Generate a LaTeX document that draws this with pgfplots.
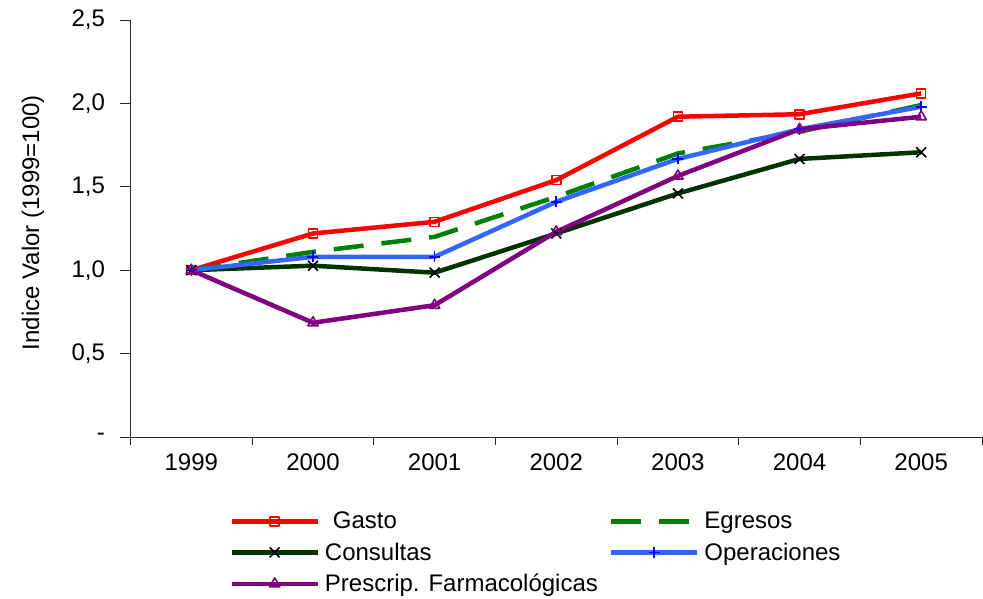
\documentclass[border=0pt]{standalone}
\usepackage{fontspec}
\setmainfont{Liberation Sans}
\usepackage{pgfplots}
\pgfplotsset{compat=1.18}
\definecolor{cgasto}{RGB}{255,0,0}
\definecolor{cegr}{RGB}{0,128,0}
\definecolor{ccons}{RGB}{0,51,0}
\definecolor{coper}{RGB}{51,102,255}
\definecolor{cpres}{RGB}{128,0,128}
\newcommand{\bigf}{\fontsize{24}{28}\selectfont}
\begin{document}
\begin{tikzpicture}
\useasboundingbox (0,0) rectangle (983pt,599pt);
\begin{axis}[
  at={(130.5pt,162pt)}, anchor=south west,
  scale only axis, width=851.5pt, height=417pt,
  xmin=-0.5, xmax=6.5, ymin=0, ymax=2.5,
  axis x line*=bottom, axis y line*=left,
  axis line style={line width=0.9pt, black!85},
  xtick={0,...,6}, xticklabels={1999,2000,2001,2002,2003,2004,2005},
  major x tick style={draw=none},
  minor xtick={-0.5,0.5,...,6.5},
  ytick={0,0.5,1,1.5,2,2.5}, yticklabels={-,{0,5},{1,0},{1,5},{2,0},{2,5}},
  tick align=outside, major tick length=10pt, minor tick length=8pt,
  tick style={line width=0.9pt, black!85},
  every tick label/.append style={font=\bigf},
  yticklabel style={xshift=-12pt},
  xticklabel style={yshift=-3pt},
  /pgf/number format/assume math mode=true,
  ylabel={Indice Valor (1999=100)},
  ylabel style={font=\bigf, at={(axis description cs:-0.1145,0.514)}, anchor=center, rotate=0},
  legend columns=2,
  legend cell align=left,
  legend style={draw=none, fill=none, font=\bigf, at={(rel axis cs:0.116,-0.175)}, anchor=north west,
    inner sep=0pt, row sep=8.5pt,
    /tikz/every odd column/.append style={column sep=3pt},
    /tikz/every even column/.append style={column sep=9pt}},
  legend image code/.code={\draw[#1, mark repeat=2, mark phase=2] plot coordinates {(0pt,0pt)(43pt,0pt)(86pt,0pt)};},
  every axis plot/.append style={line width=4.5pt, line join=round},
]
\addplot[cgasto, mark=square, mark size=4.5pt, mark options={solid, line width=1.6pt}] coordinates
  {(0,1.0) (1,1.22) (2,1.29) (3,1.54) (4,1.92) (5,1.935) (6,2.06)};
\addlegendentry{\hspace{8pt}Gasto}
\addplot[cegr, dash pattern=on 30pt off 18pt] coordinates
  {(0,1.0) (1,1.11) (2,1.20) (3,1.44) (4,1.70) (5,1.83) (6,1.99)};
\addlegendentry{Egresos}
\addplot[ccons, mark=x, mark size=7pt, mark options={solid, black, line width=1.6pt}] coordinates
  {(0,1.0) (1,1.027) (2,0.985) (3,1.22) (4,1.46) (5,1.667) (6,1.707)};
\addlegendentry{Consultas}
\addplot[coper, mark=+, mark size=5.5pt, mark options={solid, blue, line width=1.6pt}] coordinates
  {(0,1.0) (1,1.08) (2,1.08) (3,1.41) (4,1.667) (5,1.845) (6,1.98)};
\addlegendentry{Operaciones}
\addplot[cpres, mark=triangle, mark size=6pt, mark options={solid, line width=1.6pt}] coordinates
  {(0,1.0) (1,0.685) (2,0.79) (3,1.23) (4,1.565) (5,1.845) (6,1.92)};
\addlegendentry{Prescrip. Farmacológicas}
\end{axis}
\end{tikzpicture}
\end{document}
